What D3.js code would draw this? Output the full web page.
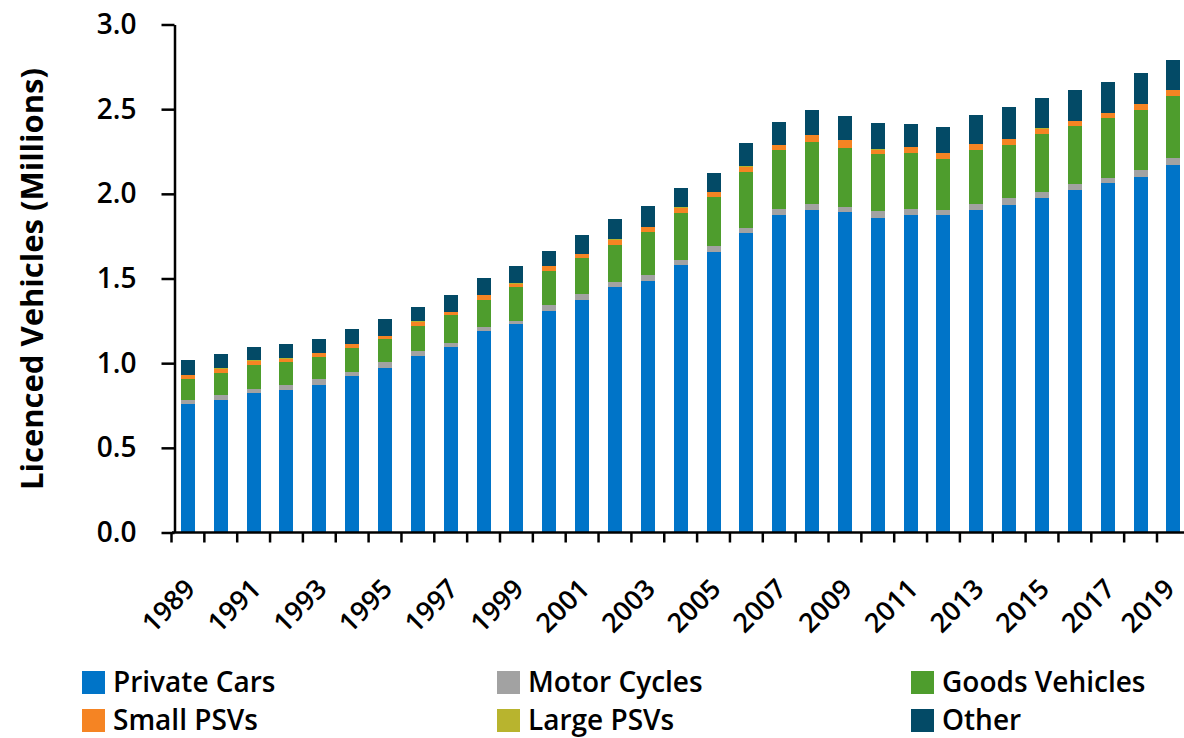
<!DOCTYPE html>
<html>
<head>
<meta charset="utf-8">
<script src="https://cdn.jsdelivr.net/npm/d3@7"></script>
<style>
  body { margin: 0; background: #fff; }
  svg { display: block; font-family: "Open Sans", sans-serif; }
</style>
</head>
<body>
<div id="chart"></div>
<script>
(function(){

  var width = 1184;
  var height = 738;

  var years = [1989, 1990, 1991, 1992, 1993, 1994, 1995, 1996, 1997, 1998,
               1999, 2000, 2001, 2002, 2003, 2004, 2005, 2006, 2007, 2008,
               2009, 2010, 2011, 2012, 2013, 2014, 2015, 2016, 2017, 2018, 2019];

  // millions of vehicles
  var privateCars   = [0.759, 0.783, 0.824, 0.842, 0.871, 0.924, 0.972, 1.043, 1.096, 1.190,
                       1.232, 1.308, 1.373, 1.450, 1.486, 1.580, 1.657, 1.769, 1.875, 1.905,
                       1.893, 1.858, 1.875, 1.875, 1.905, 1.934, 1.976, 2.023, 2.064, 2.100, 2.171];
  var motorCycles   = [0.024, 0.030, 0.024, 0.030, 0.035, 0.024, 0.035, 0.030, 0.024, 0.024,
                       0.018, 0.035, 0.035, 0.030, 0.035, 0.030, 0.035, 0.030, 0.035, 0.035,
                       0.030, 0.041, 0.035, 0.030, 0.035, 0.041, 0.035, 0.035, 0.030, 0.041, 0.041];
  var goodsVehicles = [0.124, 0.130, 0.142, 0.136, 0.130, 0.142, 0.136, 0.148, 0.165, 0.159,
                       0.201, 0.201, 0.213, 0.219, 0.254, 0.278, 0.289, 0.331, 0.348, 0.366,
                       0.348, 0.337, 0.331, 0.301, 0.319, 0.313, 0.343, 0.343, 0.354, 0.354, 0.366];
  var smallPSVs     = [0.024, 0.024, 0.024, 0.018, 0.024, 0.024, 0.018, 0.024, 0.018, 0.030,
                       0.018, 0.030, 0.024, 0.030, 0.030, 0.030, 0.030, 0.030, 0.030, 0.041,
                       0.047, 0.024, 0.035, 0.035, 0.035, 0.035, 0.030, 0.030, 0.030, 0.035, 0.035];
  var largePSVs     = [0.002, 0.002, 0.002, 0.002, 0.002, 0.002, 0.002, 0.002, 0.002, 0.002,
                       0.002, 0.002, 0.002, 0.002, 0.002, 0.002, 0.002, 0.002, 0.002, 0.002,
                       0.002, 0.002, 0.002, 0.002, 0.002, 0.002, 0.002, 0.002, 0.002, 0.002, 0.002];
  var other         = [0.083, 0.083, 0.077, 0.083, 0.083, 0.083, 0.100, 0.083, 0.095, 0.100,
                       0.100, 0.089, 0.112, 0.118, 0.124, 0.112, 0.112, 0.136, 0.136, 0.148,
                       0.142, 0.154, 0.136, 0.154, 0.171, 0.189, 0.177, 0.183, 0.183, 0.183, 0.177];

  var seriesNames = ['Private Cars', 'Motor Cycles', 'Goods Vehicles', 'Small PSVs', 'Large PSVs', 'Other'];
  var seriesColors = ['#0074c8', '#a2a2a2', '#4e9d2d', '#f58423', '#b8b42e', '#034a66'];
  var yTicks = [0, 0.5, 1.0, 1.5, 2.0, 2.5, 3.0];

  var seriesValues = [privateCars, motorCycles, goodsVehicles, smallPSVs, largePSVs, other];

  // table for d3.stack
  var table = years.map(function(yr, i){
    var row = { year: yr };
    seriesNames.forEach(function(name, s){ row[name] = seriesValues[s][i]; });
    return row;
  });

  var stacked = d3.stack().keys(seriesNames)(table);

  var svg = d3.select('#chart')
        .append('svg')
        .attr('width', width)
        .attr('height', height);

  var step = 32.85;
  var x = d3.scaleBand()
        .domain(years)
        .range([171.5, 171.5 + step * years.length])
        .paddingInner(0.574)
        .paddingOuter(0.287);

  var y = d3.scaleLinear()
        .domain([0, 3])
        .range([532.5, 24.5]);

  // bars
  svg.append('g')
    .selectAll('g')
    .data(stacked)
    .enter()
    .append('g')
      .attr('fill', function(d, i){ return seriesColors[i]; })
    .selectAll('rect')
    .data(function(d){ return d; })
    .enter()
    .append('rect')
      .attr('shape-rendering', 'crispEdges')
      .attr('x', function(d){ return x(d.data.year); })
      .attr('width', x.bandwidth())
      .attr('y', function(d){ return y(d[1]); })
      .attr('height', function(d){ return y(d[0]) - y(d[1]); });

  // y axis
  var yAxis = svg.append('g')
      .attr('transform', 'translate(174.5,0)')
      .call(d3.axisLeft(y)
        .tickValues(yTicks)
        .tickSize(13)
        .tickSizeOuter(0)
        .tickPadding(25)
        .tickFormat(d3.format('.1f')));
  yAxis.select('.domain').attr('stroke-width', 2.5);
  yAxis.selectAll('.tick line').attr('stroke-width', 2.5);
  yAxis.selectAll('.tick text')
      .attr('font-size', '28px')
      .attr('font-weight', 600)
      .attr('fill', '#000')
      .attr('font-family', '"Open Sans", sans-serif');

  // x axis: ticks sit on category boundaries, labels on odd years
  var lastYear = years[years.length - 1];
  var xAxis = svg.append('g')
      .attr('transform', 'translate(0,532.5)')
      .call(d3.axisBottom(x)
        .tickSize(10)
        .tickSizeOuter(0)
        .tickFormat(function(d){ return d % 2 === 1 ? d : ''; }));
  xAxis.select('.domain')
      .attr('d', 'M172,0H' + width)
      .attr('stroke-width', 2.5);
  xAxis.selectAll('.tick line')
      .attr('stroke-width', 2.5)
      .attr('transform', 'translate(' + (-x.step() / 2) + ',0)');
  xAxis.selectAll('.tick text')
      .attr('font-size', '27px')
      .attr('font-weight', 600)
      .attr('fill', '#000')
      .attr('font-family', '"Open Sans", sans-serif')
      .attr('text-anchor', 'end')
      .attr('y', 0)
      .attr('dy', 0)
      .attr('transform', function(d){
        // last label nudged in so it stays inside the page
        return d === lastYear ? 'translate(3,58) rotate(-45)' : 'translate(9,58) rotate(-45)';
      });

  // axis title
  svg.append('text')
      .attr('transform', 'translate(43,279) rotate(-90)')
      .attr('text-anchor', 'middle')
      .attr('font-size', '31px')
      .attr('font-weight', 700)
      .attr('fill', '#000')
      .text('Licenced Vehicles (Millions)');

  // legend
  var legendX = [82, 497, 911];
  var legendY = [671, 709];
  var legend = svg.append('g')
      .selectAll('g')
      .data(seriesNames)
      .enter()
      .append('g')
        .attr('transform', function(d, i){
          return 'translate(' + legendX[i % 3] + ',' + legendY[Math.floor(i / 3)] + ')';
        });

  legend.append('rect')
      .attr('width', 23)
      .attr('height', 23)
      .attr('fill', function(d, i){ return seriesColors[i]; });

  legend.append('text')
      .attr('x', 31)
      .attr('y', 21)
      .attr('font-size', '28px')
      .attr('font-weight', 600)
      .attr('fill', '#000')
      .text(function(d){ return d; });

})();
</script>
</body>
</html>
